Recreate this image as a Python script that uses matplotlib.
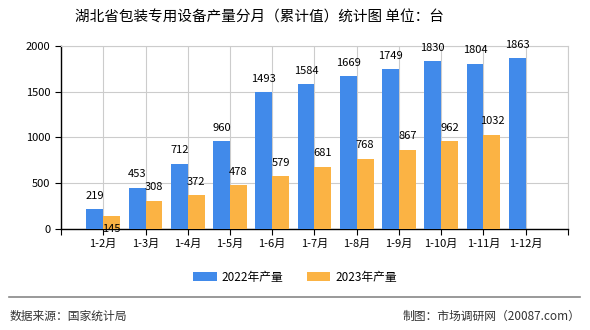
import matplotlib.pyplot as plt
import numpy as np

plt.rcParams['font.family'] = ['Noto Sans CJK SC', 'DejaVu Sans']

months = ['1-2月', '1-3月', '1-4月', '1-5月', '1-6月', '1-7月', '1-8月',
          '1-9月', '1-10月', '1-11月', '1-12月']
prod_2022 = [219, 453, 712, 960, 1493, 1584, 1669, 1749, 1830, 1804, 1863]
prod_2023 = [145, 308, 372, 478, 579, 681, 768, 867, 962, 1032]

blue = '#418AEA'
orange = '#FBB344'

fig = plt.figure(figsize=(5.9, 3.3), dpi=100)
ax = fig.add_axes([0.1034, 0.306, 0.8593, 0.555])

x = np.arange(len(months))
w = 0.4
b1 = ax.bar(x - w / 2, prod_2022, w, color=blue, label='2022年产量', zorder=3)
x2 = np.arange(len(prod_2023))
b2 = ax.bar(x2 + w / 2, prod_2023, w, color=orange, label='2023年产量', zorder=3)

for rect, v in zip(b1, prod_2022):
    ax.annotate(str(v), (rect.get_x() + rect.get_width() / 2, v),
                xytext=(0, 6), textcoords='offset points',
                ha='center', va='bottom', fontsize=8, zorder=4)
for i, (rect, v) in enumerate(zip(b2, prod_2023)):
    # the first orange label sits low in the reference
    dy = -13 if i == 0 else 6
    ax.annotate(str(v), (rect.get_x() + rect.get_width() / 2, v),
                xytext=(0, dy), textcoords='offset points',
                ha='center', va='bottom', fontsize=8, zorder=4)

ax.set_xlim(-1, len(months))
ax.set_ylim(0, 2000)
ax.set_yticks([0, 500, 1000, 1500, 2000])
ax.set_xticks(np.arange(-1, len(months) + 1))
ax.set_xticklabels([''] + months + [''])
ax.tick_params(axis='both', labelsize=8, length=4, direction='out', colors='black')
ax.tick_params(axis='x', pad=3)
ax.grid(True, color='#cccccc', linewidth=0.8, zorder=0)

for side in ['top', 'right']:
    ax.spines[side].set_color('#cccccc')
for side in ['left', 'bottom']:
    ax.spines[side].set_color('black')
    ax.spines[side].set_linewidth(1)

fig.text(0.44, 0.948, '湖北省包装专用设备产量分月（累计值）统计图 单位：台',
         ha='center', va='center', fontsize=10.5)

fig.legend(handles=[b1, b2], loc='center', bbox_to_anchor=(0.5, 0.16),
           ncol=2, frameon=False, fontsize=8.5, handlelength=2.0,
           handleheight=0.8, columnspacing=2.0, handletextpad=0.4)

fig.add_artist(plt.Line2D([0.015, 0.983], [0.1, 0.1], color='#888888',
                          linewidth=1.2, transform=fig.transFigure))
fig.text(0.017, 0.042, '数据来源：国家统计局', ha='left', va='center', fontsize=8.5,
         color='#333333')
fig.text(0.983, 0.042, '制图：市场调研网（20087.com）', ha='right', va='center',
         fontsize=8.5, color='#333333')

fig.savefig('out.png', dpi=100)
